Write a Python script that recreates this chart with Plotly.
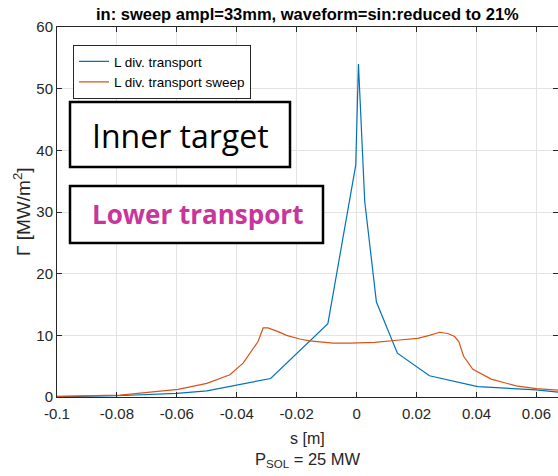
import plotly.graph_objects as go

# ---- data ----
s_transport = [-0.1, -0.08, -0.06, -0.05, -0.0287, -0.0096, -0.0003, 0.0006, 0.0027,
               0.0066, 0.0136, 0.0243, 0.0404, 0.06, 0.0672]
g_transport = [0.05, 0.2, 0.6, 1.0, 3.0, 11.9, 37.6, 54.0, 31.7,
               15.4, 7.1, 3.45, 1.67, 1.15, 0.8]

s_sweep = [-0.1, -0.079, -0.0596, -0.05, -0.0423, -0.0379, -0.0329, -0.0312, -0.0296,
           -0.0284, -0.0262, -0.0234, -0.019, -0.0157, -0.0079, -0.0023, 0.006,
           0.0143, 0.0204, 0.0243, 0.0277, 0.0304, 0.0327, 0.0341, 0.0357, 0.0388,
           0.0449, 0.0532, 0.06, 0.0672]
g_sweep = [0.1, 0.3, 1.25, 2.2, 3.6, 5.5, 9.0, 11.2, 11.2,
           11.0, 10.6, 10.0, 9.4, 9.1, 8.75, 8.75, 8.87,
           9.24, 9.5, 10.0, 10.5, 10.3, 9.8, 9.0, 6.6, 4.5,
           2.9, 1.8, 1.35, 1.1]

x_ticks = [-0.1, -0.08, -0.06, -0.04, -0.02, 0, 0.02, 0.04, 0.06]
x_ticklabels = ["-0.1", "-0.08", "-0.06", "-0.04", "-0.02", "0", "0.02", "0.04", "0.06"]
y_ticks = [0, 10, 20, 30, 40, 50, 60]

names = ["L div. transport", "L div. transport sweep"]
colors = ["#0072BD", "#D95319"]

W, H = 558, 476
L, R, T, B = 57, 0, 27, 79

fig = go.Figure()
fig.add_trace(go.Scatter(x=s_transport, y=g_transport, mode="lines", name=names[0],
                         line=dict(color=colors[0], width=1.2)))
fig.add_trace(go.Scatter(x=s_sweep, y=g_sweep, mode="lines", name=names[1],
                         line=dict(color=colors[1], width=1.2)))
# invisible trace for right-side mirrored y ticks
fig.add_trace(go.Scatter(x=[s_transport[0]], y=[0], yaxis="y2", mode="lines",
                         showlegend=False, hoverinfo="skip", line=dict(width=0)))

axfont = dict(family="Liberation Sans, Arial", size=15, color="#262626")
fig.update_layout(
    width=W, height=H,
    margin=dict(l=L, r=R, t=T, b=B),
    paper_bgcolor="white", plot_bgcolor="white",
    showlegend=True,
    legend=dict(x=0.032, y=0.951, xanchor="left", yanchor="top",
                bgcolor="white", bordercolor="#262626", borderwidth=1,
                font=dict(family="Liberation Sans, Arial", size=13.5, color="#000000"),
                tracegroupgap=0, itemwidth=30),
    xaxis=dict(range=[-0.1, 0.0672], tickvals=x_ticks, ticktext=x_ticklabels,
               showgrid=True, gridcolor="#E3E3E3", gridwidth=1,
               zeroline=False, showline=True, linecolor="#262626", linewidth=1,
               mirror="ticks", ticks="inside", ticklen=5, tickcolor="#262626",
               tickfont=axfont, ticklabelstandoff=3),
    yaxis=dict(range=[0, 60], tickvals=y_ticks,
               showgrid=True, gridcolor="#E3E3E3", gridwidth=1,
               zeroline=False, showline=True, linecolor="#262626", linewidth=1,
               ticks="inside", ticklen=5, tickcolor="#262626", tickfont=axfont),
    yaxis2=dict(range=[0, 60], tickvals=y_ticks, overlaying="y", side="right",
                showgrid=False, zeroline=False, showline=False, showticklabels=False,
                ticks="inside", ticklen=5, tickcolor="#262626"),
)

# title
fig.add_annotation(text="<b>in: sweep ampl=33mm, waveform=sin:reduced to 21%</b>",
                   xref="paper", yref="paper", x=0.5, y=1, yshift=2,
                   xanchor="center", yanchor="bottom", showarrow=False,
                   font=dict(family="Liberation Sans, Arial", size=16.5, color="#000000"))
# y label
fig.add_annotation(text="Γ [MW/m<sup>2</sup>]", xref="paper", yref="paper",
                   x=0, xshift=-35, y=(397 - 212) / 370, xanchor="center", yanchor="middle",
                   textangle=-90, showarrow=False,
                   font=dict(family="Liberation Sans, Arial", size=19, color="#262626"))
# x labels
fig.add_annotation(text="s [m]", xref="paper", yref="paper", x=0.5, y=0, yshift=-41,
                   xanchor="center", yanchor="middle", showarrow=False,
                   font=dict(family="Liberation Sans, Arial", size=16, color="#262626"))
fig.add_annotation(text="P<sub>SOL</sub> = 25 MW", xref="paper", yref="paper", x=0.5, y=0,
                   yshift=-63, xanchor="center", yanchor="middle", showarrow=False,
                   font=dict(family="Liberation Sans, Arial", size=16.5, color="#262626"))

# text boxes (paper coords)
def px_x(px):
    return (px - L) / (W - L - R)

def px_y(py):
    return (H - B - py) / (H - T - B)

fig.add_shape(type="rect", xref="paper", yref="paper",
              x0=px_x(70), x1=px_x(290), y0=px_y(167), y1=px_y(102),
              line=dict(color="black", width=2.5), fillcolor="white", layer="above")
fig.add_annotation(text="Inner target", xref="paper", yref="paper",
                   x=px_x(180), y=px_y(135), xanchor="center", yanchor="middle",
                   showarrow=False,
                   font=dict(family="Open Sans, Noto Sans", size=32, color="black"))
fig.add_shape(type="rect", xref="paper", yref="paper",
              x0=px_x(70), x1=px_x(323), y0=px_y(243), y1=px_y(186),
              line=dict(color="black", width=2.5), fillcolor="white", layer="above")
fig.add_annotation(text="<b>Lower transport</b>", xref="paper", yref="paper",
                   x=px_x(197), y=px_y(214), xanchor="center", yanchor="middle",
                   showarrow=False,
                   font=dict(family="Open Sans, Noto Sans", size=26, color="#C8359B"))

fig.write_html("out.html")
